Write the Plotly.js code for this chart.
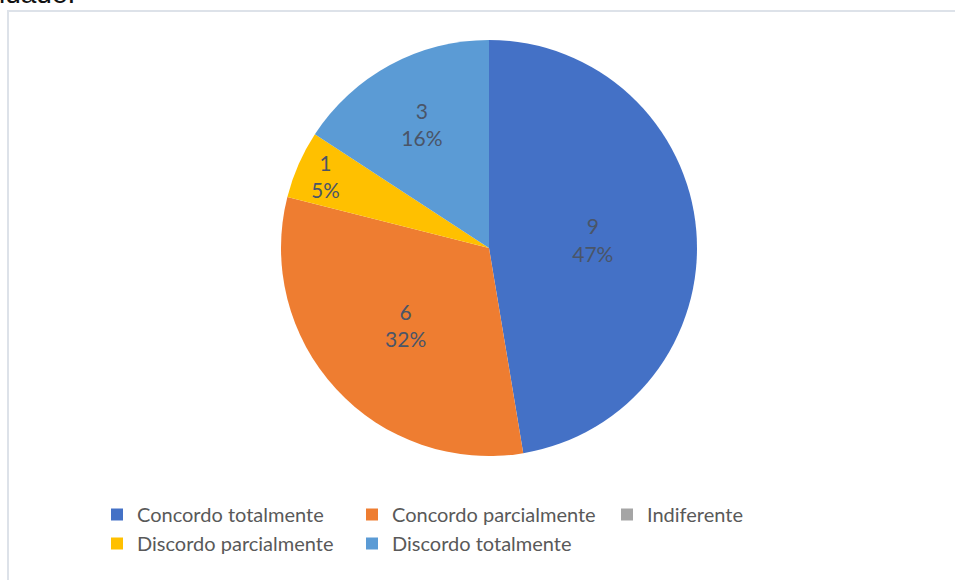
<!DOCTYPE html>
<html>
<head>
<meta charset="utf-8">
<script src="https://cdn.plot.ly/plotly-3.0.1.min.js"></script>
<style>
  html, body { margin: 0; padding: 0; background: #fff; overflow: hidden; }
  #wrap { position: relative; width: 955px; height: 580px; overflow: hidden; }
  #cut { position: absolute; left: -1px; top: -20px; font-family: "Liberation Sans", Arial, sans-serif; font-size: 28px; color: #111; line-height: 1; white-space: nowrap; }
  #chart { position: absolute; left: 0; top: 0; width: 955px; height: 580px; }
</style>
</head>
<body>
<div id="wrap">
  <div id="chart"></div>
  <div id="cut">idade.</div>
</div>
<script>
const categories = ["Concordo totalmente", "Concordo parcialmente", "Indiferente", "Discordo parcialmente", "Discordo totalmente"];
const counts = [9, 6, 0, 1, 3];
const sliceColors = ["#4471C6", "#EE7D31", "#A5A5A5", "#FFC000", "#5B9BD5"];

const templates = counts.map(v => v === 0 ? "" : "%{value}<br>%{percent:.0%}");

const trace = {
  type: "pie",
  labels: categories,
  values: counts,
  sort: false,
  direction: "clockwise",
  rotation: 0,
  marker: { colors: sliceColors, line: { width: 0 } },
  texttemplate: templates,
  textposition: "inside",
  insidetextorientation: "horizontal",
  textfont: { family: "Lato, 'Open Sans', sans-serif", size: 21, color: "#4A5568" },
  hoverinfo: "label+value+percent",
  domain: { x: [281 / 955, 697 / 955], y: [1 - 456 / 580, 1 - 40 / 580] },
  showlegend: true
};

const layout = {
  width: 955,
  height: 580,
  margin: { l: 0, r: 0, t: 0, b: 0, autoexpand: false },
  paper_bgcolor: "#ffffff",
  showlegend: true,
  legend: {
    orientation: "h",
    x: 97 / 955,
    xanchor: "left",
    y: 1 - 495 / 580,
    yanchor: "top",
    entrywidth: 210,
    entrywidthmode: "pixels",
    traceorder: "normal",
    font: { family: "Lato, 'Open Sans', sans-serif", size: 20, color: "#595959" },
    itemwidth: 30
  },
  shapes: [{
    type: "rect", xref: "paper", yref: "paper",
    x0: 8 / 955, x1: 1.1, y0: -0.2, y1: 1 - 11 / 580,
    line: { color: "#DDE2E9", width: 2 }, fillcolor: "rgba(0,0,0,0)", layer: "below"
  }]
};

Plotly.newPlot("chart", [trace], layout, { displayModeBar: false, staticPlot: true });
</script>
</body>
</html>
